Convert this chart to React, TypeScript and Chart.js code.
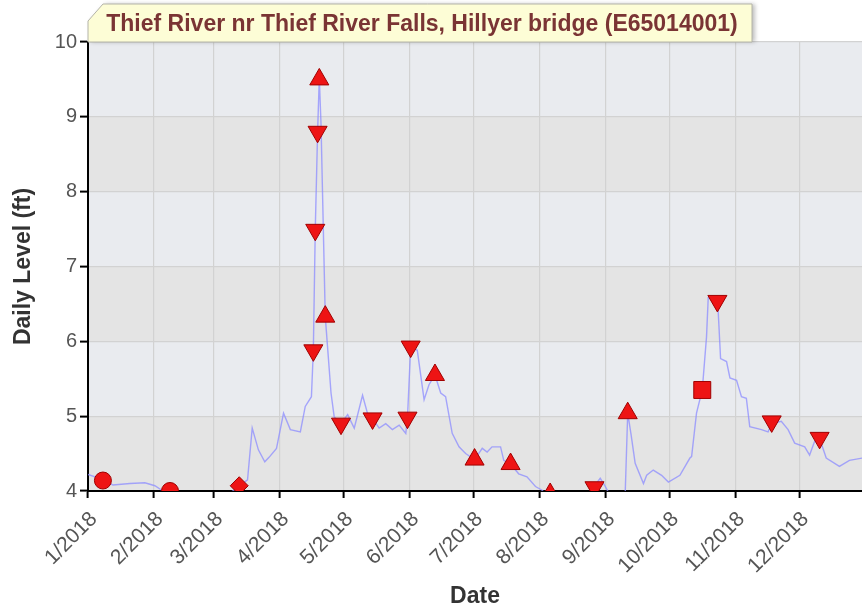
import React, { useEffect, useRef } from 'react';
import { Chart, registerables } from 'chart.js';

Chart.register(...registerables);

const TITLE = 'Thief River nr Thief River Falls, Hillyer bridge (E65014001)';
const Y_TITLE = 'Daily Level (ft)';
const X_TITLE = 'Date';

const MONTH_STARTS = [0, 31, 59, 90, 120, 151, 181, 212, 243, 273, 304, 334];
const MONTH_LABELS = ['1/2018', '2/2018', '3/2018', '4/2018', '5/2018', '6/2018', '7/2018', '8/2018', '9/2018', '10/2018', '11/2018', '12/2018'];
const Y_TICKS = [4, 5, 6, 7, 8, 9, 10];
const X_MAX = 363.4;

// daily level series (day of year, ft)
const LEVEL_DAYS = [0, 7.5, 11.7, 19.7, 26.7, 31.4, 34.6, 37, 50, 64, 67, 71.2, 74.9, 77.1, 80, 83, 85, 88.5, 91.8, 95, 99.7, 102, 104.9, 105.8, 106.7, 107.8, 108.6, 109.4, 111.4, 114.1, 115.6, 118.8, 121.9, 125, 128.9, 131.2, 133.6, 136.7, 139.8, 142.9, 146.1, 149.2, 150, 151.5, 154.6, 157.8, 160.1, 162.9, 165.6, 167.9, 171, 174.2, 177.3, 181.5, 185.1, 187.4, 189.7, 193.7, 195.2, 198.4, 202.2, 206.1, 210.1, 213.2, 216, 230, 236, 237.8, 240.5, 242.5, 244.4, 248, 252.2, 253.4, 255, 256.9, 260.8, 262.3, 265.4, 269.3, 272.5, 277.9, 282.6, 283.4, 285.7, 288.4, 290.4, 291.2, 295.6, 297, 299.8, 301.4, 304.5, 306.8, 309.1, 310.7, 316.2, 319.3, 321, 325.5, 328.7, 331.8, 336.5, 338.8, 341.1, 343.5, 346.6, 352.8, 357.5, 363.4];
const LEVEL_VALUES = [4.22, 4.15, 4.08, 4.10, 4.11, 4.07, 4.01, 3.92, 3.88, 3.9, 3.98, 4.07, 4.15, 4.84, 4.55, 4.39, 4.45, 4.57, 5.04, 4.82, 4.79, 5.13, 5.26, 5.88, 7.49, 8.80, 9.52, 8.9, 6.33, 5.31, 4.99, 4.90, 5.02, 4.84, 5.28, 5.04, 4.97, 4.84, 4.90, 4.82, 4.88, 4.77, 4.98, 5.93, 5.88, 5.22, 5.42, 5.55, 5.31, 5.26, 4.77, 4.59, 4.50, 4.42, 4.57, 4.52, 4.59, 4.59, 4.41, 4.36, 4.23, 4.19, 4.06, 4.01, 3.92, 3.88, 3.95, 4.07, 4.17, 4.08, 3.98, 3.9, 3.95, 5.04, 4.75, 4.37, 4.10, 4.21, 4.28, 4.21, 4.12, 4.21, 4.44, 4.46, 5.04, 5.35, 6.06, 6.58, 6.56, 5.77, 5.73, 5.51, 5.48, 5.26, 5.24, 4.86, 4.82, 4.79, 4.90, 4.93, 4.82, 4.64, 4.59, 4.48, 4.66, 4.70, 4.44, 4.33, 4.41, 4.44];

// measurement markers
const CIRCLE_DAYS = [7, 38.5];
const CIRCLE_VALUES = [4.14, 4.0];
const DIAMOND_DAYS = [71];
const DIAMOND_VALUES = [4.07];
const SQUARE_DAYS = [288.4];
const SQUARE_VALUES = [5.35];
const UP_DAYS = [108.6, 111.4, 162.9, 181.5, 198.4, 217, 253.4];
const UP_VALUES = [9.5, 6.33, 5.55, 4.42, 4.36, 3.96, 5.04];
const DOWN_DAYS = [105.8, 106.7, 107.8, 118.8, 133.6, 150, 151.5, 237.8, 295.5, 321, 343.5];
const DOWN_VALUES = [5.88, 7.49, 8.80, 4.90, 4.97, 4.98, 5.93, 4.05, 6.54, 4.93, 4.71];

const FONT = "'Liberation Sans', Arial, sans-serif";

const pts = (xs: number[], ys: number[]) => xs.map((x, i) => ({ x, y: ys[i] }));

const bandsPlugin = {
  id: 'bands',
  beforeDraw(chart: any) {
    const { ctx, chartArea } = chart;
    const y = chart.scales.y;
    ctx.save();
    for (let v = 4; v < 10; v++) {
      const top = y.getPixelForValue(v + 1);
      const bot = y.getPixelForValue(v);
      ctx.fillStyle = v % 2 === 1 ? '#e9ebef' : '#e4e4e4';
      ctx.fillRect(chartArea.left, top, chartArea.right - chartArea.left, bot - top);
    }
    ctx.restore();
  },
};

const titlePlugin = {
  id: 'tabTitle',
  afterDraw(chart: any) {
    const { ctx, chartArea } = chart;
    const l = chartArea.left;
    const r = 752;
    const t = 4;
    const b = chartArea.top;
    ctx.save();
    ctx.beginPath();
    ctx.moveTo(l, b);
    ctx.lineTo(l, t + 17);
    ctx.lineTo(l + 15, t);
    ctx.lineTo(r, t);
    ctx.lineTo(r, b);
    ctx.closePath();
    ctx.shadowColor = 'rgba(0,0,0,0.25)';
    ctx.shadowBlur = 4;
    ctx.shadowOffsetX = 3;
    ctx.shadowOffsetY = 0;
    ctx.fillStyle = '#fdfdd6';
    ctx.fill();
    ctx.shadowColor = 'transparent';
    ctx.strokeStyle = '#b4b4a8';
    ctx.lineWidth = 1;
    ctx.stroke();
    ctx.fillStyle = '#7a3434';
    ctx.font = `bold 23px ${FONT}`;
    ctx.textAlign = 'center';
    ctx.textBaseline = 'middle';
    ctx.fillText(TITLE, (l + r) / 2 + 2, 25);
    ctx.restore();
  },
};

const markerBase = {
  type: 'line' as const,
  showLine: false,
  backgroundColor: '#ee1414',
  borderColor: '#a00000',
  pointBackgroundColor: '#ee1414',
  pointBorderColor: '#a00000',
  pointBorderWidth: 1,
  clip: 0,
};

export default function App() {
  const ref = useRef<HTMLCanvasElement>(null);

  useEffect(() => {
    if (!ref.current) return;
    const chart = new Chart(ref.current, {
      type: 'line',
      data: {
        datasets: [
          { ...markerBase, data: pts(UP_DAYS, UP_VALUES), pointStyle: 'triangle', pointRadius: 11, pointRotation: 0 },
          { ...markerBase, data: pts(DOWN_DAYS, DOWN_VALUES), pointStyle: 'triangle', pointRadius: 11, pointRotation: 180 },
          { ...markerBase, data: pts(CIRCLE_DAYS, CIRCLE_VALUES), pointStyle: 'circle', pointRadius: 8.5 },
          { ...markerBase, data: pts(DIAMOND_DAYS, DIAMOND_VALUES), pointStyle: 'rectRot', pointRadius: 9 },
          { ...markerBase, data: pts(SQUARE_DAYS, SQUARE_VALUES), pointStyle: 'rect', pointRadius: 12 },
          {
            type: 'line',
            data: pts(LEVEL_DAYS, LEVEL_VALUES),
            borderColor: 'rgba(140,140,255,0.75)',
            borderWidth: 1.4,
            pointRadius: 0,
            tension: 0,
            clip: 0,
          },
        ],
      } as any,
      options: {
        responsive: false,
        animation: false,
        events: [],
        layout: { autoPadding: false, padding: { top: 42, left: 0, right: 0, bottom: 0 } },
        plugins: {
          legend: { display: false },
          tooltip: { enabled: false },
          title: { display: false },
        },
        scales: {
          x: {
            type: 'linear',
            min: 0,
            max: X_MAX,
            afterBuildTicks: (s: any) => {
              s.ticks = MONTH_STARTS.map((v) => ({ value: v }));
            },
            afterFit: (s: any) => {
              s.height = 121;
              s.paddingLeft = 0;
              s.paddingRight = 0;
            },
            ticks: {
              autoSkip: false,
              maxRotation: 45,
              minRotation: 45,
              color: '#555',
              font: { size: 21, family: FONT },
              padding: 9,
              labelOffset: 6,
              callback: (_v: any, i: number) => MONTH_LABELS[i],
            },
            grid: { color: '#d2d2d2', lineWidth: 1.2, tickLength: 7, tickColor: '#000', tickWidth: 2 },
            border: { color: '#000', width: 2 },
            title: {
              display: true,
              text: X_TITLE,
              color: '#333',
              font: { size: 23, weight: 'bold', family: FONT },
              padding: { top: 0, bottom: 2 },
            },
          },
          y: {
            type: 'linear',
            min: 4,
            max: 10,
            afterBuildTicks: (s: any) => {
              s.ticks = Y_TICKS.map((v) => ({ value: v }));
            },
            afterFit: (s: any) => {
              s.width = 88;
              s.paddingTop = 0;
              s.paddingBottom = 0;
            },
            ticks: {
              color: '#555',
              font: { size: 20, family: FONT },
              padding: 3,
            },
            grid: { color: '#d2d2d2', lineWidth: 1.2, tickLength: 8, tickColor: '#000', tickWidth: 2 },
            border: { color: '#000', width: 2 },
            title: {
              display: true,
              text: Y_TITLE,
              color: '#333',
              font: { size: 23, weight: 'bold', family: FONT },
              padding: { top: 10, bottom: 0 },
            },
          },
        },
      } as any,
      plugins: [bandsPlugin, titlePlugin],
    });
    return () => chart.destroy();
  }, []);

  return (
    <div style={{ position: 'absolute', left: 0, top: 0, width: 862, height: 612, background: '#fff' }}>
      <canvas ref={ref} width={862} height={612} style={{ width: 862, height: 612, display: 'block' }} />
    </div>
  );
}
